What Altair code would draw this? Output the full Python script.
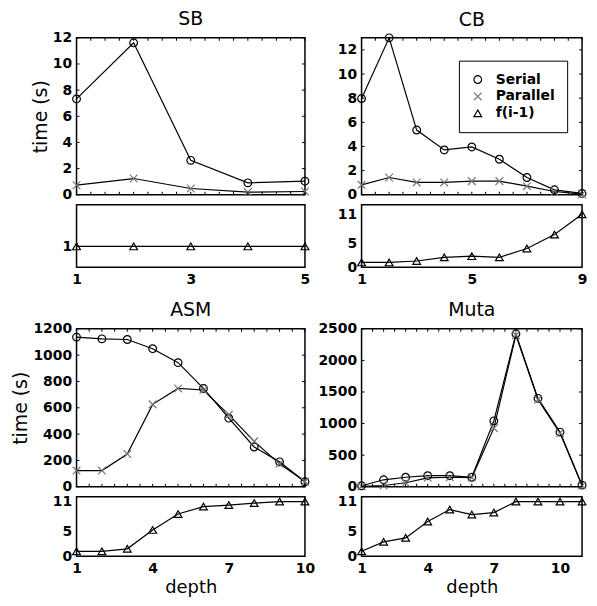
import altair as alt
import pandas as pd

FONT = "DejaVu Sans"

# ---------------- data ----------------
sb_depth = [1, 2, 3, 4, 5]
sb_serial = [7.33, 11.62, 2.63, 0.91, 1.04]
sb_parallel = [0.73, 1.24, 0.48, 0.2, 0.25]
sb_f = [1, 1, 1, 1, 1]

cb_depth = [1, 2, 3, 4, 5, 6, 7, 8, 9]
cb_serial = [7.97, 13.0, 5.36, 3.71, 3.96, 2.94, 1.43, 0.41, 0.11]
cb_parallel = [0.82, 1.43, 1.02, 1.02, 1.13, 1.13, 0.71, 0.27, 0.05]
cb_f = [1, 1, 1.3, 2.05, 2.3, 2.05, 3.9, 6.8, 11]

asm_depth = [1, 2, 3, 4, 5, 6, 7, 8, 9, 10]
asm_serial = [1137, 1124, 1119, 1049, 943, 747, 521, 302, 189, 38]
asm_parallel = [123, 123, 249, 626, 747, 735, 546, 345, 174, 40]
asm_f = [1, 1, 1.5, 5.3, 8.5, 10.0, 10.3, 10.7, 11, 11]

muta_depth = [1, 2, 3, 4, 5, 6, 7, 8, 9, 10, 11]
muta_serial = [15, 110, 150, 175, 175, 150, 1043, 2421, 1399, 865, 25]
muta_parallel = [5, 20, 63, 141, 150, 145, 928, 2400, 1380, 850, 20]
muta_f = [1, 2.9, 3.7, 7.0, 9.4, 8.4, 8.8, 11, 11, 11, 11]

series_names = ["Serial", "Parallel", "f(i-1)"]

# ---------------- styling ----------------
XPATH = "M-1,-1L1,1M-1,1L1,-1"
shape_scale = alt.Scale(domain=series_names, range=["circle", XPATH, "triangle-up"])
color_scale = alt.Scale(domain=series_names, range=["black", "#777777", "black"])
SYM = 60
LW = 1.2
TK = 3

WL, WR = 230, 222
SPACE_COL = 57


def legend_obj():
    return alt.Legend(
        title=None, orient="none", legendX=WR - 19 - 105, legendY=23,
        strokeColor="black", fillColor="white", padding=12, cornerRadius=0,
        labelFont=FONT, labelFontWeight="bold", labelFontSize=14, labelColor="black",
        labelOffset=11, symbolSize=SYM, symbolStrokeWidth=LW, rowPadding=3,
    )


def tick_layers(xdom, ydom, xt, yt, W, H, yaxis):
    xdf = pd.DataFrame({"t": xt})
    ydf = pd.DataFrame({"v": yt})
    xs = alt.Scale(domain=xdom, nice=False, zero=False)
    ys = alt.Scale(domain=ydom, nice=False, zero=False)
    top = alt.Chart(xdf).mark_rule(color="black", strokeWidth=1).encode(
        x=alt.X("t:Q", scale=xs, axis=None), y=alt.value(0), y2=alt.value(TK))
    bot = alt.Chart(xdf).mark_rule(color="black", strokeWidth=1).encode(
        x=alt.X("t:Q", scale=xs, axis=None), y=alt.value(H), y2=alt.value(H - TK))
    left = alt.Chart(ydf).mark_rule(color="black", strokeWidth=1).encode(
        y=alt.Y("v:Q", scale=ys, axis=yaxis), x=alt.value(0), x2=alt.value(TK))
    right = alt.Chart(ydf).mark_rule(color="black", strokeWidth=1).encode(
        y=alt.Y("v:Q", scale=ys, axis=yaxis), x=alt.value(W), x2=alt.value(W - TK))
    return [top, bot, left, right]


def top_chart(title, depth, serial, parallel, xdom, ydom, yvals, xminor, W, H,
              ytitle=None, legend=False):
    df = pd.DataFrame({
        "depth": depth + depth,
        "time": serial + parallel,
        "series": ["Serial"] * len(depth) + ["Parallel"] * len(depth),
    })
    xs = alt.Scale(domain=xdom, nice=False, zero=False)
    ys = alt.Scale(domain=ydom, nice=False, zero=False)
    yaxis = alt.Axis(values=yvals, title=ytitle, labelPadding=5, titlePadding=2,
                     format="d")
    lines = alt.Chart(df).mark_line(color="black", strokeWidth=LW).encode(
        x=alt.X("depth:Q", scale=xs, axis=None),
        y=alt.Y("time:Q", scale=ys, axis=yaxis),
        detail="series:N",
    )
    pts = alt.Chart(df).mark_point(filled=False, size=SYM, strokeWidth=LW, opacity=1).encode(
        x=alt.X("depth:Q", scale=xs, axis=None),
        y=alt.Y("time:Q", scale=ys, axis=yaxis),
        shape=alt.Shape("series:N", scale=shape_scale,
                        legend=legend_obj() if legend else None),
        color=alt.Color("series:N", scale=color_scale,
                        legend=legend_obj() if legend else None),
    )
    layers = [lines, pts] + tick_layers(xdom, ydom, xminor, yvals, W, H, yaxis)
    return alt.layer(*layers).properties(
        width=W, height=H,
        title=alt.TitleParams(title, font=FONT, fontSize=19, fontWeight="normal",
                              color="black", offset=2, frame="group"),
    )


def bottom_chart(depth, f, xdom, ydom, yvals, xvals, W, H, xtitle=None):
    df = pd.DataFrame({"depth": depth, "f": f})
    xs = alt.Scale(domain=xdom, nice=False, zero=False)
    ys = alt.Scale(domain=ydom, nice=False, zero=False)
    xaxis = alt.Axis(values=xvals, title=xtitle, labelPadding=5, titlePadding=3,
                     titleFontSize=18, labelFlush=False, format="d")
    yaxis = alt.Axis(values=yvals, title=None, labelPadding=5, format="d")
    line = alt.Chart(df).mark_line(color="black", strokeWidth=LW).encode(
        x=alt.X("depth:Q", scale=xs, axis=xaxis),
        y=alt.Y("f:Q", scale=ys, axis=yaxis),
    )
    pts = alt.Chart(df).mark_point(shape="triangle-up", filled=False, size=SYM,
                                   strokeWidth=LW, color="black", opacity=1).encode(
        x=alt.X("depth:Q", scale=xs, axis=xaxis),
        y=alt.Y("f:Q", scale=ys, axis=yaxis),
    )
    return alt.layer(line, pts).properties(width=W, height=H)


def spacer(W, H):
    return alt.Chart(pd.DataFrame({"a": [0]})).mark_point(opacity=0).encode(
        x=alt.X("a:Q", axis=None), y=alt.Y("a:Q", axis=None)
    ).properties(width=W, height=H, view=alt.ViewBackground(strokeOpacity=0))


sb_top = top_chart("SB", sb_depth, sb_serial, sb_parallel, [1, 5], [0, 12],
                   [0, 2, 4, 6, 8, 10, 12], [1 + 0.25 * i for i in range(17)],
                   WL, 158, ytitle="time (s)")
cb_top = top_chart("CB", cb_depth, cb_serial, cb_parallel, [1, 9], [0, 13],
                   [0, 2, 4, 6, 8, 10, 12], [1 + 0.5 * i for i in range(17)],
                   WR, 158, legend=True)
sb_bot = bottom_chart(sb_depth, sb_f, [1, 5], [0, 3], [1], [1, 3, 5], WL, 63)
cb_bot = bottom_chart(cb_depth, cb_f, [1, 9], [0, 13], [0, 5, 11], [1, 5, 9], WR, 63)

asm_top = top_chart("ASM", asm_depth, asm_serial, asm_parallel, [1, 10], [0, 1200],
                    [0, 200, 400, 600, 800, 1000, 1200], [1 + 0.5 * i for i in range(19)],
                    WL, 159, ytitle="time (s)")
muta_top = top_chart("Muta", muta_depth, muta_serial, muta_parallel, [1, 11], [0, 2500],
                     [0, 500, 1000, 1500, 2000, 2500], [1 + 0.5 * i for i in range(21)],
                     WR, 159)
asm_bot = bottom_chart(asm_depth, asm_f, [1, 10], [0, 12], [0, 5, 11], [1, 4, 7, 10],
                       WL, 60, xtitle="depth")
muta_bot = bottom_chart(muta_depth, muta_f, [1, 11], [0, 12], [0, 5, 11], [1, 4, 7, 10],
                        WR, 60, xtitle="depth")

chart = alt.concat(
    sb_top, cb_top,
    sb_bot, cb_bot,
    spacer(WL, 42), spacer(WR, 42),
    asm_top, muta_top,
    asm_bot, muta_bot,
    columns=2,
    spacing=alt.RowColnumber(row=10, column=SPACE_COL),
    bounds="flush",
).resolve_scale(
    shape="independent", color="independent", x="independent", y="independent"
).resolve_legend(shape="independent", color="independent").configure_view(
    stroke="black", strokeWidth=1.5
).configure_axis(
    labelFont=FONT, labelFontWeight="bold", labelFontSize=14, labelColor="black",
    titleFont=FONT, titleFontWeight="normal", titleFontSize=19, titleColor="black",
    grid=False, domain=False, ticks=False, tickSize=0, labelOverlap=False,
).properties(
    background="white",
    padding={"left": 3, "top": -1, "right": -1, "bottom": 0},
)

chart.save("out.html", embed_options={"renderer": "svg", "actions": False})
